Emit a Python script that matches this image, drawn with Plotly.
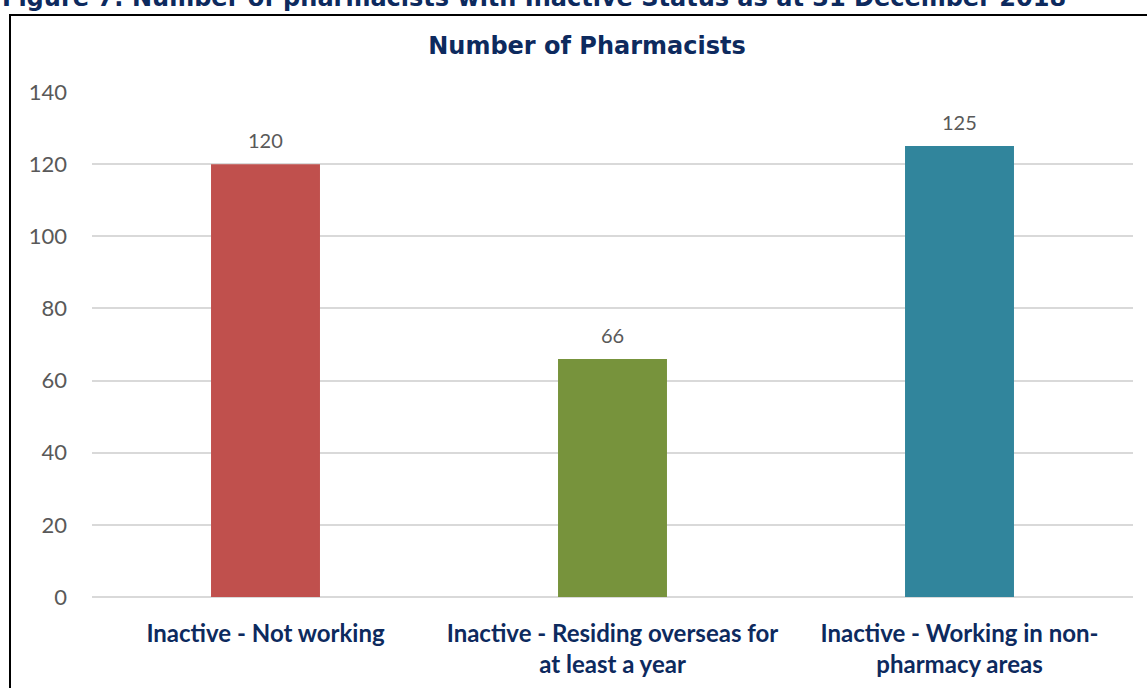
import plotly.graph_objects as go

# Inactive pharmacist counts by category
categories = [
    "Inactive - Not working",
    "Inactive - Residing overseas for<br>at least a year",
    "Inactive - Working in non-<br>pharmacy areas",
]
counts = [120, 66, 125]
bar_colors = ["#C0504D", "#77933C", "#31859C"]
y_ticks = [0, 20, 40, 60, 80, 100, 120, 140]

NAVY = "#0D2A5E"
GREY = "#595959"

W, H = 1147, 688
L, R, T, B = 92, 14, 92, 91
pw, ph = W - L - R, H - T - B


def px_x(px):
    return (px - L) / pw


def px_y(py):
    return (H - B - py) / ph


fig = go.Figure(
    go.Bar(
        x=categories,
        y=counts,
        marker=dict(color=bar_colors, line=dict(width=0)),
        width=0.314,
        hoverinfo="x+y",
    )
)

# Value labels above the bars
for cat, val in zip(categories, counts):
    fig.add_annotation(
        x=cat, y=val, text=str(val), showarrow=False,
        yanchor="bottom", yshift=10,
        font=dict(family="Lato", size=20, color=GREY),
    )

# Figure caption (partly above the visible page area)
fig.add_annotation(
    xref="paper", yref="paper", x=px_x(0), y=px_y(14),
    xanchor="left", yanchor="bottom", showarrow=False,
    text="<b>Figure 7: Number of pharmacists with Inactive Status as at 31 December 2018</b>",
    font=dict(family="DejaVu Sans", size=24, color=NAVY),
)

# Chart frame
fig.add_shape(
    type="rect", xref="paper", yref="paper",
    x0=px_x(10), x1=px_x(W + 5), y0=px_y(H + 5), y1=px_y(15),
    line=dict(color="#000000", width=2), fillcolor="rgba(0,0,0,0)",
    layer="above",
)

fig.update_layout(
    width=W, height=H,
    margin=dict(l=L, r=R, t=T, b=B, pad=0, autoexpand=False),
    paper_bgcolor="white", plot_bgcolor="white",
    showlegend=False,
    title=dict(
        text="<b>Number of Pharmacists</b>",
        x=587 / W, xref="container", xanchor="center",
        y=1 - 46 / H, yanchor="middle",
        font=dict(family="DejaVu Sans", size=24, color=NAVY),
    ),
    xaxis=dict(
        showgrid=False, showline=False, ticks="", automargin=False,
        tickfont=dict(family="Lato", size=24, color=NAVY, weight="bold"),
        ticklabelstandoff=20,
    ),
    yaxis=dict(
        range=[0, 140], tickvals=y_ticks, automargin=False,
        showgrid=True, gridcolor="#D9D9D9", gridwidth=1.5,
        zeroline=True, zerolinecolor="#D9D9D9", zerolinewidth=1.5,
        showline=False, ticks="",
        tickfont=dict(family="Lato", size=22, color=GREY),
        ticklabelstandoff=24,
    ),
)

fig.write_html("out.html")
